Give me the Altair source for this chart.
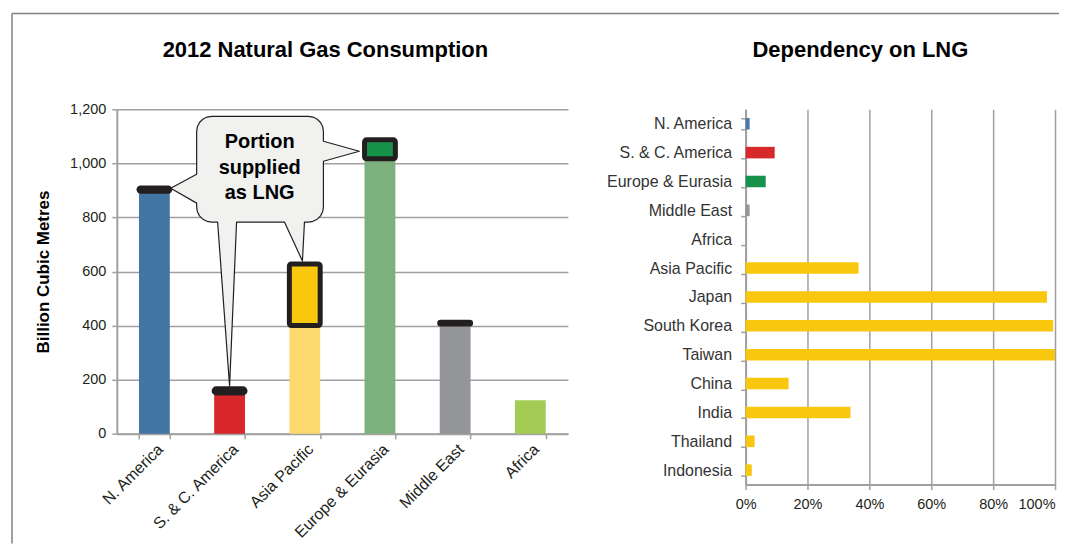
import altair as alt
import numpy as np
import pandas as pd

# ---------------- data ----------------
regions = ["N. America", "S. & C. America", "Asia Pacific",
           "Europe & Eurasia", "Middle East", "Africa"]
non_lng = [897, 151, 400, 1017, 406, 124]      # bcm not supplied as LNG
lng = [12, 15, 228, 70, 6, 0]                   # bcm supplied as LNG
base_colors = ["#4375a3", "#d9262a", "#fdd86d", "#7cb07d", "#939598", "#a3cc55"]
lng_colors = ["#4375a3", "#d9262a", "#f9c80e", "#17924a", "#939598", "#a3cc55"]

dep_names = ["N. America", "S. & C. America", "Europe & Eurasia", "Middle East",
             "Africa", "Asia Pacific", "Japan", "South Korea", "Taiwan",
             "China", "India", "Thailand", "Indonesia"]
dep_share = [1.3, 9.4, 6.5, 1.3, 0, 36.5, 97.4, 99.4, 100, 13.9, 33.9, 2.9, 2.0]
dep_colors = ["#4a78a8", "#d62a2a", "#17924a", "#939598", "#a3cc55",
              "#f9c80e", "#f9c80e", "#f9c80e", "#f9c80e", "#f9c80e",
              "#f9c80e", "#f9c80e", "#f9c80e"]

titles = ["2012 Natural Gas Consumption", "Dependency on LNG"]

# callout bubble, in (category units, bcm)
bubble_box = [1.062, 2.748, 783, 1174]           # left, right, bottom, top
bubble_tips = {
    "left":  [(1.062, 960), (0.717, 908), (1.062, 853)],
    "right": [(2.748, 1082), (3.226, 1045), (2.748, 1008)],
    "asia":  [(2.496, 783), (2.469, 639), (2.230, 783)],
    "sca":   [(1.593, 783), (1.500, 177), (1.341, 783)],
}
bubble_text = "Portion\nsupplied\nas LNG"
bubble_text_pos = (1.90, 1078)   # first line

# ---------------- layout constants ----------------
W1, H1 = 452, 325
W2, H2 = 310, 376
GRAY = "#a0a0a0"
TXT = "#231f20"
FONT = "Liberation Sans"

ru, rv = 0.199, 55.4  # corner radius in data units


def arc(cx, cy, a0, a1, n=6):
    t = np.radians(np.linspace(a0, a1, n))
    return [(cx + ru * np.cos(a), cy + rv * np.sin(a)) for a in t]


L, R, B, T = bubble_box
pts = []
pts += arc(R - ru, T - rv, 90, 0)
pts += bubble_tips["right"]
pts += arc(R - ru, B + rv, 0, -90)
pts += bubble_tips["asia"]
pts += bubble_tips["sca"]
pts += arc(L + ru, B + rv, -90, -180)
pts += bubble_tips["left"][::-1]
pts += arc(L + ru, T - rv, 180, 90)
pts.append(pts[0])
bubble_df = pd.DataFrame({"u": [p[0] for p in pts], "v": [p[1] for p in pts],
                          "i": list(range(len(pts)))})

base_df = pd.DataFrame({"region": regions, "value": non_lng, "color": base_colors})
lng_df = pd.DataFrame({"region": regions, "lo": non_lng,
                       "hi": [a + b for a, b in zip(non_lng, lng)],
                       "lng": lng, "color": lng_colors})
lng_df = lng_df[lng_df["lng"] > 0]
text_df = pd.DataFrame({"u": [bubble_text_pos[0]], "v": [bubble_text_pos[1]],
                        "t": [bubble_text]})
one = pd.DataFrame({"k": [0]})

xband = dict(domain=regions, paddingInner=0.59, paddingOuter=0.295)
yscale = alt.Scale(domain=[0, 1200], nice=False)
uscale = alt.Scale(domain=[0, 6], nice=False, zero=False)

bars = alt.Chart(base_df).mark_bar().encode(
    x=alt.X("region:N", sort=regions, scale=alt.Scale(**xband),
            axis=alt.Axis(title=None, labelAngle=-45, labelFontSize=16,
                          labelColor=TXT, tickBand="extent", tickSize=5,
                          tickColor=GRAY, tickWidth=1.5, domainColor=GRAY,
                          domainWidth=2, labelPadding=2)),
    y=alt.Y("value:Q", scale=yscale,
            axis=alt.Axis(values=[0, 200, 400, 600, 800, 1000, 1200], format=",d",
                          grid=True, gridColor=GRAY, gridWidth=1.5,
                          domainColor=GRAY, domainWidth=2, tickColor=GRAY,
                          tickWidth=1.5, tickSize=5, labelFontSize=14.5,
                          labelColor=TXT, labelPadding=6,
                          title="Billion Cubic Metres", titleFontSize=17,
                          titleFontWeight="bold", titleColor="black",
                          titlePadding=17)),
    color=alt.Color("color:N", scale=None),
)

bubble = alt.Chart(bubble_df).mark_line(
    fill="#f1f1f0", stroke=TXT, strokeWidth=1.2, strokeJoin="round"
).encode(
    x=alt.X("u:Q", scale=uscale, axis=None),
    y=alt.Y("v:Q", scale=yscale),
    order=alt.Order("i:Q"),
)

label = alt.Chart(text_df).mark_text(
    fontSize=20, fontWeight="bold", lineBreak="\n", lineHeight=25.5,
    align="center", baseline="middle", color="black"
).encode(
    x=alt.X("u:Q", scale=uscale, axis=None),
    y=alt.Y("v:Q", scale=yscale),
    text="t:N",
)

caps = alt.Chart(lng_df).mark_bar(
    stroke=TXT, strokeWidth=5, strokeJoin="round", cornerRadius=2
).encode(
    x=alt.X("region:N", sort=regions, scale=alt.Scale(**xband), axis=None),
    y=alt.Y("lo:Q", scale=yscale),
    y2="hi:Q",
    color=alt.Color("color:N", scale=None),
)

frame_h = alt.Chart(one).mark_rule(color="#808080", strokeWidth=1.5).encode(
    x=alt.value(-105), x2=alt.value(944), y=alt.value(-96))
frame_v = alt.Chart(one).mark_rule(color="#808080", strokeWidth=1.5).encode(
    x=alt.value(-105), y=alt.value(-96), y2=alt.value(H1 + 110))

title1 = alt.Chart(one).mark_text(
    fontSize=22, fontWeight="bold", align="center", baseline="middle",
    color="black"
).encode(x=alt.value(W1 / 2 - 17), y=alt.value(-59), text=alt.value(titles[0]))

left = alt.layer(bars, bubble, label, caps, frame_h, frame_v, title1).resolve_scale(
    x="independent"
).properties(width=W1, height=H1)

dep_df = pd.DataFrame({"name": dep_names, "share": dep_share, "color": dep_colors})
rbars = alt.Chart(dep_df).mark_bar().encode(
    y=alt.Y("name:N", sort=dep_names,
            scale=alt.Scale(paddingInner=0.6, paddingOuter=0.3),
            axis=alt.Axis(title=None, tickBand="extent", tickSize=5,
                          tickColor=GRAY, tickWidth=1.5, domainColor=GRAY,
                          domainWidth=2, labelFontSize=16, labelColor="#333333",
                          labelPadding=9)),
    x=alt.X("share:Q", scale=alt.Scale(domain=[0, 100], nice=False),
            axis=alt.Axis(title=None, values=[0, 20, 40, 60, 80, 100],
                          labelExpr="datum.value + '%'", grid=True,
                          gridColor=GRAY, gridWidth=1.5, domainColor=GRAY,
                          domainWidth=2, tickColor=GRAY, tickWidth=1.5,
                          tickSize=5, labelFontSize=14.5, labelColor=TXT,
                          labelPadding=8, labelFlush=False,
                          labelAlign={"condition": {"test": "datum.value >= 100",
                                                    "value": "right"},
                                      "value": "center"})),
    color=alt.Color("color:N", scale=None),
)
title2 = alt.Chart(one).mark_text(
    fontSize=22, fontWeight="bold", align="center", baseline="middle",
    color="black"
).encode(x=alt.value(W2 / 2 - 40), y=alt.value(-59), text=alt.value(titles[1]))

right = alt.layer(rbars, title2).properties(width=W2, height=H2)

chart = alt.hconcat(left, right, spacing=178, bounds="flush").properties(
    padding={"left": 3, "top": 4, "right": 0, "bottom": 0}
).configure(font=FONT).configure_view(stroke=None)

chart.save("out.html", embed_options={"renderer": "svg", "actions": False})
